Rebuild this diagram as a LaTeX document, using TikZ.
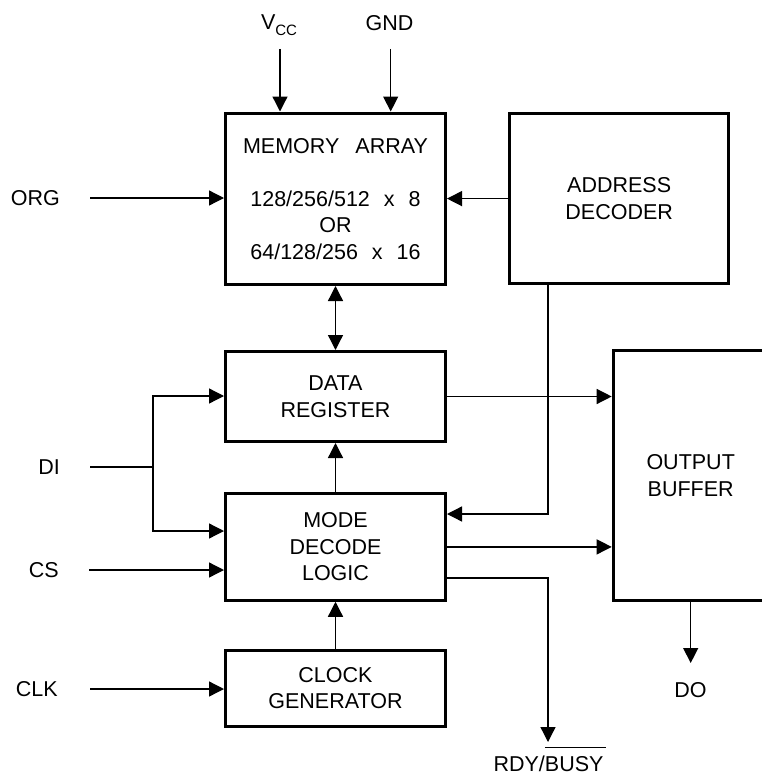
\documentclass[tikz,border=0pt]{standalone}
\usepackage{fontspec}
\setmainfont{Liberation Sans}
\usetikzlibrary{arrows.meta}
\begin{document}
\begin{tikzpicture}[x=1pt,y=-1pt,
  box/.style={draw, line width=3pt, rectangle, align=center, inner sep=0pt,
    font=\fontsize{21.5}{26.5}\selectfont},
  lbl/.style={font=\fontsize{21.5}{26}\selectfont, inner sep=0pt},
  wire/.style={line width=1.3pt},
  arr/.style={wire, -{Triangle[length=15pt,width=15pt]}},
  darr/.style={wire, {Triangle[length=15pt,width=15pt]}-{Triangle[length=15pt,width=15pt]}}]
\useasboundingbox (0,0) rectangle (761,776);

% blocks
\node[box, minimum width=220pt, minimum height=171.5pt] (mem) at (335.5,198.75)
  {MEMORY\hspace{16pt}ARRAY\\[26.5pt]128/256/512\hspace{14pt}x\hspace{14pt}8\\OR\\64/128/256\hspace{14pt}x\hspace{14pt}16};
\node[box, minimum width=219pt, minimum height=170pt] (ad) at (619.2,198.6) {ADDRESS\\DECODER};
\node[box, minimum width=220pt, minimum height=90pt] (dr) at (335.5,396.5) {DATA\\REGISTER};
\node[box, minimum width=220pt, minimum height=106.7pt] (mdl) at (335.5,546.9) {MODE\\DECODE\\LOGIC};
\node[box, minimum width=220pt, minimum height=75.7pt] (cg) at (335.5,688.3) {CLOCK\\GENERATOR};
\node[box, minimum width=155pt, minimum height=249.7pt] (ob) at (690.7,475.4) {OUTPUT\\BUFFER};

% labels
\node[lbl, anchor=base] (vcc) at (279,29.3) {V\raisebox{-6.7pt}{\fontsize{15}{15}\selectfont CC}};
\node[lbl, anchor=base] (gnd) at (389.5,30.7) {GND};
\node[lbl, anchor=east] (org) at (60,198) {ORG};
\node[lbl, anchor=east] (di) at (60,467) {DI};
\node[lbl, anchor=east] (cs) at (59,570) {CS};
\node[lbl, anchor=east] (clk) at (58,689) {CLK};
\node[lbl, anchor=base] (do) at (690.5,697) {DO};
\node[lbl, anchor=base] (rdy) at (548.5,771.5) {RDY/\rlap{\rule[23.5pt]{61pt}{1.1pt}}BUSY};

% free ends
\coordinate (vccin) at (280,49);
\coordinate (gndin) at (390.7,49);
\coordinate (dij) at (153,467);
\coordinate (rdyend) at (548,742);
\coordinate (doend) at (690.7,663);

% connectors
\draw[arr] (vccin) -- (mem.north -| vccin);
\draw[arr] (gndin) -- (mem.north -| gndin);
\draw[arr] ([xshift=30pt]org.east) -- (mem.west |- org.east);
\draw[arr] (ad.west) -- (mem.east |- ad.west);
\draw[darr] (mem.south) -- (dr.north);
\draw[wire] ([xshift=30pt]di.east) -- (dij);
\draw[arr] (dij) |- (dr.west |- 0,396);
\draw[arr] (dij) |- (mdl.west |- 0,531);
\draw[arr] ([xshift=30pt]cs.east) -- (mdl.west |- cs.east);
\draw[arr] ([xshift=32pt]clk.east) -- (cg.west |- clk.east);
\draw[arr] (mdl.north) -- (dr.south);
\draw[arr] (cg.north) -- (mdl.south);
\draw[arr] (dr.east) -- (ob.west |- dr.east);
\draw[arr] (ad.south -| 548,0) |- (mdl.east |- 0,514);
\draw[arr] (mdl.east) -- (ob.west |- mdl.east);
\draw[arr] (mdl.east |- 0,578) -| (rdyend);
\draw[arr] (ob.south -| doend) -- (doend);
\end{tikzpicture}
\end{document}
